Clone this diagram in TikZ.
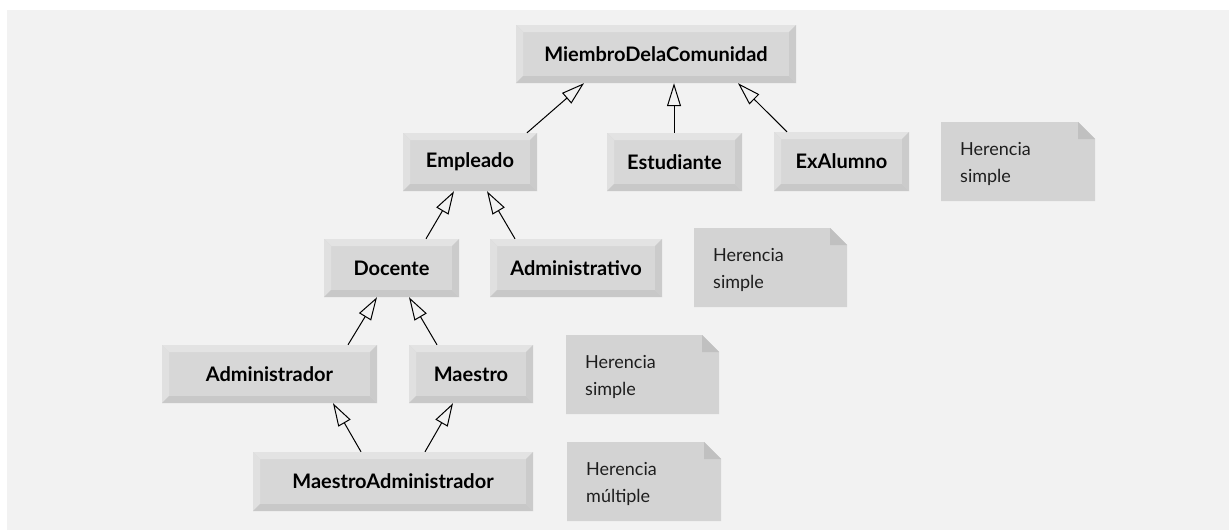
\documentclass[tikz,border=0pt]{standalone}
\usepackage{fontspec}
\setmainfont{Lato}
\usetikzlibrary{arrows.meta}
\definecolor{bg}{HTML}{F2F2F2}
\definecolor{face}{HTML}{D7D7D7}
\definecolor{bevtop}{HTML}{E3E3E3}
\definecolor{bevleft}{HTML}{E0E0E0}
\definecolor{bevbot}{HTML}{C8C8C8}
\definecolor{bevright}{HTML}{CBCBCB}
\definecolor{notefill}{HTML}{D3D3D3}
\definecolor{notefold}{HTML}{C0C0C0}
\definecolor{notetxt}{HTML}{1E1E1E}
\def\bb{path picture bounding box}
\tikzset{
  umlbox/.style={fill=face, inner sep=0pt, font=\fontsize{20}{24}\selectfont\bfseries, text=black,
    path picture={
      \fill[bevtop] (\bb.north west) -- (\bb.north east) -- ([shift={(-7pt,-7pt)}]\bb.north east) -- ([shift={(7pt,-7pt)}]\bb.north west) -- cycle;
      \fill[bevleft] (\bb.north west) -- ([shift={(7pt,-7pt)}]\bb.north west) -- ([shift={(7pt,7pt)}]\bb.south west) -- (\bb.south west) -- cycle;
      \fill[bevbot] (\bb.south west) -- (\bb.south east) -- ([shift={(-7pt,7pt)}]\bb.south east) -- ([shift={(7pt,7pt)}]\bb.south west) -- cycle;
      \fill[bevright] (\bb.north east) -- (\bb.south east) -- ([shift={(-7pt,7pt)}]\bb.south east) -- ([shift={(-7pt,-7pt)}]\bb.north east) -- cycle;
    }},
  notetext/.style={inner sep=0pt, text=notetxt, font=\fontsize{18}{27}\selectfont, text width=130pt, align=left},
  inh/.style={line width=1pt, -{Triangle[open, length=23pt, width=14pt, line width=1pt]}}
}
\newcommand\umlnode[6]{%
  \node[umlbox, minimum width={#4-#2}, minimum height={#5-#3}] (#1) at ({(#2+#4)/2},{(#3+#5)/2}) {#6};}
\newcommand\notebox[6]{%
  \fill[notefill] (#2,#3) -- ({#4-17},#3) -- (#4,{#3+17}) -- (#4,#5) -- (#2,#5) -- cycle;
  \fill[notefold] ({#4-17},#3) -- ({#4-17},{#3+17}) -- (#4,{#3+17}) -- cycle;
  \node[notetext, anchor=base west] (#1) at ({#2+19},{#3+33}) {#6};}
\begin{document}
\begin{tikzpicture}[x=1pt,y=-1pt]
\useasboundingbox (0,0) rectangle (1229,530);
\fill[white] (0,0) rectangle (1229,530);
\fill[bg] (7,10) rectangle (1229,530);

\umlnode{miembro}{516}{25}{796}{83}{MiembroDelaComunidad}
\umlnode{empleado}{403}{133}{537}{191}{Empleado}
\umlnode{estudiante}{607}{133}{742}{191}{Estudiante}
\umlnode{exalumno}{774}{132}{909}{191}{ExAlumno}
\umlnode{docente}{324}{239}{459}{297}{Docente}
\umlnode{administrativo}{490}{239}{662}{297}{Administrativo}
\umlnode{administrador}{162}{345}{377}{403}{Administrador}
\umlnode{maestro}{409}{345}{533}{403}{Maestro}
\umlnode{maestroadmin}{253}{452}{533}{511}{MaestroAdministrador}

\notebox{n1}{941}{122}{1095}{201}{Herencia\\simple}
\notebox{n2}{694}{228}{847}{307}{Herencia\\simple}
\notebox{n3}{566}{335}{719}{414}{Herencia\\simple}
\notebox{n4}{567}{442}{721}{521}{Herencia\\múltiple}

\draw[inh] ([xshift=57pt]empleado.north) -- ([xshift=-72pt]miembro.south);
\draw[inh] ([xshift=-0.5pt]estudiante.north) -- ([xshift=18pt]miembro.south);
\draw[inh] ([xshift=-54.5pt]exalumno.north) -- ([xshift=82pt]miembro.south);
\draw[inh] ([xshift=34.5pt]docente.north) -- ([xshift=-16pt]empleado.south);
\draw[inh] ([xshift=-61pt]administrativo.north) -- ([xshift=17pt]empleado.south);
\draw[inh] ([xshift=78.5pt]administrador.north) -- ([xshift=-14.5pt]docente.south);
\draw[inh] ([xshift=-34pt]maestro.north) -- ([xshift=17.5pt]docente.south);
\draw[inh] ([xshift=-32pt]maestroadmin.north) -- ([xshift=63.5pt]administrador.south);
\draw[inh] ([xshift=32pt]maestroadmin.north) -- ([xshift=-18pt]maestro.south);
\end{tikzpicture}
\end{document}
